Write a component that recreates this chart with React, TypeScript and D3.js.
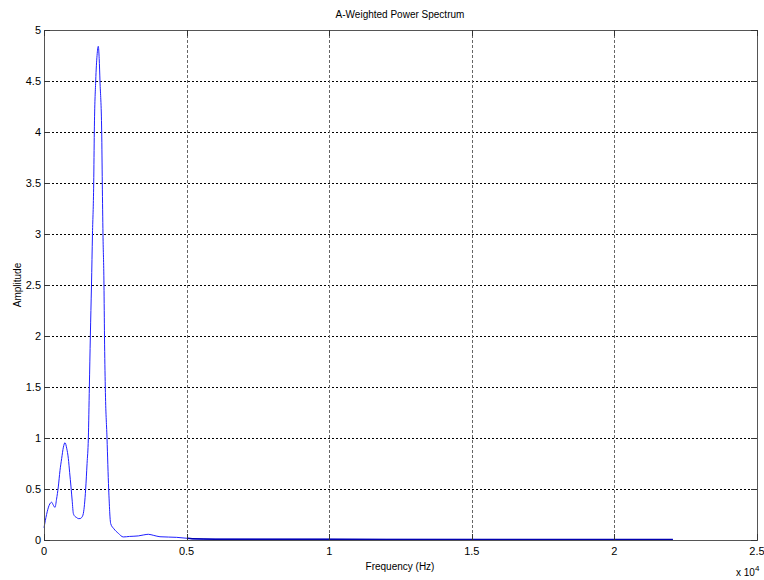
import React from "react";
import * as d3 from "d3";

const freqHz = [0, 90, 180, 270, 330, 386, 440, 501, 560, 620, 680, 736, 795, 853, 900, 947, 990, 1029, 1090, 1145, 1200, 1262, 1320, 1379, 1420, 1461, 1510, 1555, 1590, 1625, 1665, 1700, 1743, 1764, 1813, 1860, 1904, 1935, 1963, 2023, 2044, 2068, 2103, 2121, 2149, 2209, 2268, 2339, 2450, 2605, 2780, 3000, 3306, 3500, 3657, 3850, 4067, 4652, 5013, 5200, 6000, 8000, 12000, 16000, 22050];
const amplitude = [0.12, 0.25, 0.34, 0.37, 0.34, 0.32, 0.4, 0.52, 0.68, 0.8, 0.91, 0.954, 0.9, 0.8, 0.66, 0.52, 0.38, 0.26, 0.23, 0.22, 0.21, 0.21, 0.22, 0.26, 0.35, 0.5, 0.75, 1.0, 1.5, 2.0, 2.5, 3.0, 3.5, 4.0, 4.5, 4.75, 4.84, 4.72, 4.5, 4.0, 3.5, 3.0, 2.5, 2.0, 1.5, 1.0, 0.5, 0.16, 0.11, 0.066, 0.03, 0.035, 0.04, 0.05, 0.056, 0.045, 0.032, 0.026, 0.017, 0.012, 0.008, 0.007, 0.006, 0.005, 0.004];

const xTicks = [0, 5000, 10000, 15000, 20000, 25000];
const xTickLabels = ["0", "0.5", "1", "1.5", "2", "2.5"];
const yTicks = [0, 0.5, 1, 1.5, 2, 2.5, 3, 3.5, 4, 4.5, 5];
const yTickLabels = ["0", "0.5", "1", "1.5", "2", "2.5", "3", "3.5", "4", "4.5", "5"];

const W = 764, H = 580;
const L = 44, R = 757, T = 30, B = 540;
const FONT = "'Liberation Sans', Arial, sans-serif";

export default function App() {
  const x = d3.scaleLinear().domain([0, 25000]).range([L, R]);
  const y = d3.scaleLinear().domain([0, 5]).range([B, T]);
  const pts = freqHz.map((f, i) => [f, amplitude[i]] as [number, number]);
  const line = d3.line<[number, number]>().x(d => x(d[0])).y(d => y(d[1])).curve(d3.curveMonotoneX);
  const tailPts = pts.filter(p => p[0] >= 5013);
  return (
    <svg width={W} height={H} style={{ position: "absolute", left: 0, top: 0, background: "#fff" }}>
      <rect x={0} y={0} width={W} height={H} fill="#fff" />
      {yTicks.slice(1, -1).map(t => (
        <line key={"gy" + t} x1={L} x2={R} y1={y(t) + 0.5} y2={y(t) + 0.5} stroke="#000" strokeWidth={1} strokeDasharray="2,2" />
      ))}
      {xTicks.slice(1, -1).map(t => (
        <line key={"gx" + t} x1={Math.round(x(t)) + 0.5} x2={Math.round(x(t)) + 0.5} y1={T} y2={B} stroke="#666" strokeWidth={1} strokeDasharray="3,2" />
      ))}
      <path d={line(pts) || ""} fill="none" stroke="#2020ff" strokeWidth={1} />
      <path d={line(tailPts) || ""} fill="none" stroke="#0000b0" strokeWidth={1.5} />
      <rect x={L + 0.5} y={T + 0.5} width={R - L} height={B - T} fill="none" stroke="#555" strokeWidth={1} />
      {xTicks.map(t => (
        <g key={"tx" + t}>
          <line x1={Math.round(x(t)) + 0.5} x2={Math.round(x(t)) + 0.5} y1={B} y2={B - 6} stroke="#333" />
          <line x1={Math.round(x(t)) + 0.5} x2={Math.round(x(t)) + 0.5} y1={T} y2={T + 6} stroke="#333" />
        </g>
      ))}
      {yTicks.map(t => (
        <g key={"ty" + t}>
          <line x1={L} x2={L + 6} y1={y(t) + 0.5} y2={y(t) + 0.5} stroke="#333" />
          <line x1={R} x2={R - 6} y1={y(t) + 0.5} y2={y(t) + 0.5} stroke="#333" />
        </g>
      ))}
      {xTicks.map((t, i) => (
        <text key={"lx" + t} x={x(t)} y={B + 15} textAnchor="middle" fontFamily={FONT} fontSize={11} fill="#000">{xTickLabels[i]}</text>
      ))}
      {yTicks.map((t, i) => (
        <text key={"ly" + t} x={L - 3} y={y(t) + 4} textAnchor="end" fontFamily={FONT} fontSize={11} fill="#000">{yTickLabels[i]}</text>
      ))}
      <text x={736} y={576} fontFamily={FONT} fontSize={10} fill="#000">x 10<tspan dy={-5} fontSize={8}>4</tspan></text>
      <text x={400} y={18} textAnchor="middle" fontFamily={FONT} fontSize={10} fill="#000">A-Weighted Power Spectrum</text>
      <text x={400} y={570} textAnchor="middle" fontFamily={FONT} fontSize={10} fill="#000">Frequency (Hz)</text>
      <text x={0} y={0} transform="translate(21,285) rotate(-90)" textAnchor="middle" fontFamily={FONT} fontSize={10} fill="#000">Amplitude</text>
    </svg>
  );
}
